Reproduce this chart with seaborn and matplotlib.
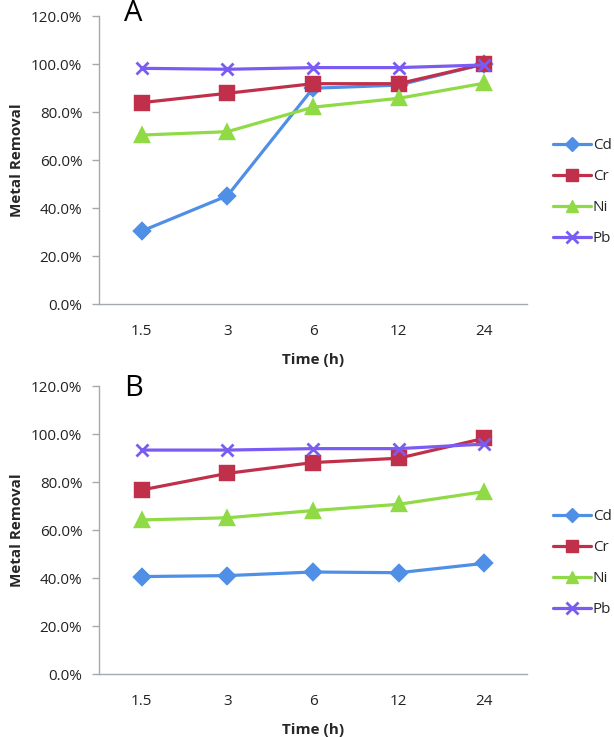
import matplotlib
matplotlib.use("Agg")
import matplotlib.pyplot as plt
import seaborn as sns
import pandas as pd
from matplotlib.ticker import PercentFormatter
from matplotlib.lines import Line2D

times = ["1.5", "3", "6", "12", "24"]
metals = ["Cd", "Cr", "Ni", "Pb"]

a_cd = [30.4, 45.1, 89.9, 91.2, 100.0]
a_cr = [83.9, 87.8, 91.8, 91.8, 100.0]
a_ni = [70.4, 71.8, 82.0, 85.7, 92.0]
a_pb = [98.2, 97.8, 98.5, 98.5, 99.6]

b_cd = [40.6, 41.0, 42.5, 42.2, 46.1]
b_cr = [76.7, 83.6, 88.1, 89.9, 98.2]
b_ni = [64.2, 65.1, 68.1, 70.7, 76.0]
b_pb = [93.3, 93.3, 93.9, 93.9, 95.8]

palette = {"Cd": "#4F8FE6", "Cr": "#C0304A", "Ni": "#8FDA45", "Pb": "#7B5CF2"}
markers = ["D", "s", "^", "x"]
msizes = {"Cd": 8, "Cr": 10, "Ni": 10, "Pb": 9}

sns.set_style("white")
plt.rcParams["font.family"] = ["Open Sans", "DejaVu Sans"]

FS = 11

def make_df(vals):
    rows = []
    for m, v in zip(metals, vals):
        for t, y in zip(times, v):
            rows.append({"Time": t, "Metal": m, "Removal": y})
    return pd.DataFrame(rows)

fig = plt.figure(figsize=(6.14, 7.37), dpi=100)
W, H = 614, 737
panels = [
    ("A", [a_cd, a_cr, a_ni, a_pb], 304, 148, 1.010),
    ("B", [b_cd, b_cr, b_ni, b_pb], 674, 519, 0.993),
]
grey = "#A4A9AE"
for label, vals, y0, leg_y, lab_y in panels:
    ax = fig.add_axes([99 / W, (H - y0) / H, 428 / W, 288 / H])
    df = make_df(vals)
    sns.pointplot(data=df, x="Time", y="Removal", hue="Metal", order=times,
                  hue_order=metals, palette=palette, markers=markers,
                  linestyles="-", errorbar=None, ax=ax, linewidth=2.3,
                  markersize=8, legend=False)
    for line, m in zip(ax.lines, metals):
        line.set_markersize(msizes[m])
        if m == "Pb":
            line.set_markeredgewidth(2.0)
            line.set_markeredgecolor(palette[m])
    ax.set_xlim(-0.5, 4.5)
    ax.set_ylim(0, 120)
    ax.set_yticks(range(0, 121, 20))
    ax.yaxis.set_major_formatter(PercentFormatter(decimals=1))
    for s in ["top", "right"]:
        ax.spines[s].set_visible(False)
    for s in ["left", "bottom"]:
        ax.spines[s].set_color(grey)
        ax.spines[s].set_linewidth(1.0)
    ax.tick_params(axis="y", left=True, length=5, width=1, color=grey,
                   labelsize=FS, pad=7, labelcolor="#222222")
    ax.tick_params(axis="x", bottom=False, labelsize=FS, pad=11, labelcolor="#222222")
    ax.set_xlabel("Time (h)", fontsize=FS, fontweight="bold", labelpad=10)
    ax.set_ylabel("Metal Removal", fontsize=FS, fontweight="bold", labelpad=5)
    ax.text(0.08, lab_y, label, transform=ax.transAxes, fontsize=21,
            va="center", ha="center", color="black")
    handles = []
    for m, mk in zip(metals, markers):
        handles.append(Line2D([0], [0], color=palette[m], lw=2.3, marker=mk,
                              markersize=msizes[m] * 0.9, markeredgecolor=palette[m],
                              markeredgewidth=2 if m == "Pb" else 1))
    fig.legend(handles, metals, loc="upper left",
               bbox_to_anchor=(547 / W, 1 - (leg_y - 16) / H),
               frameon=False, fontsize=FS, handlelength=2.5, handletextpad=0.1,
               labelspacing=1.05, borderaxespad=0)

fig.savefig("out.png", dpi=100)
